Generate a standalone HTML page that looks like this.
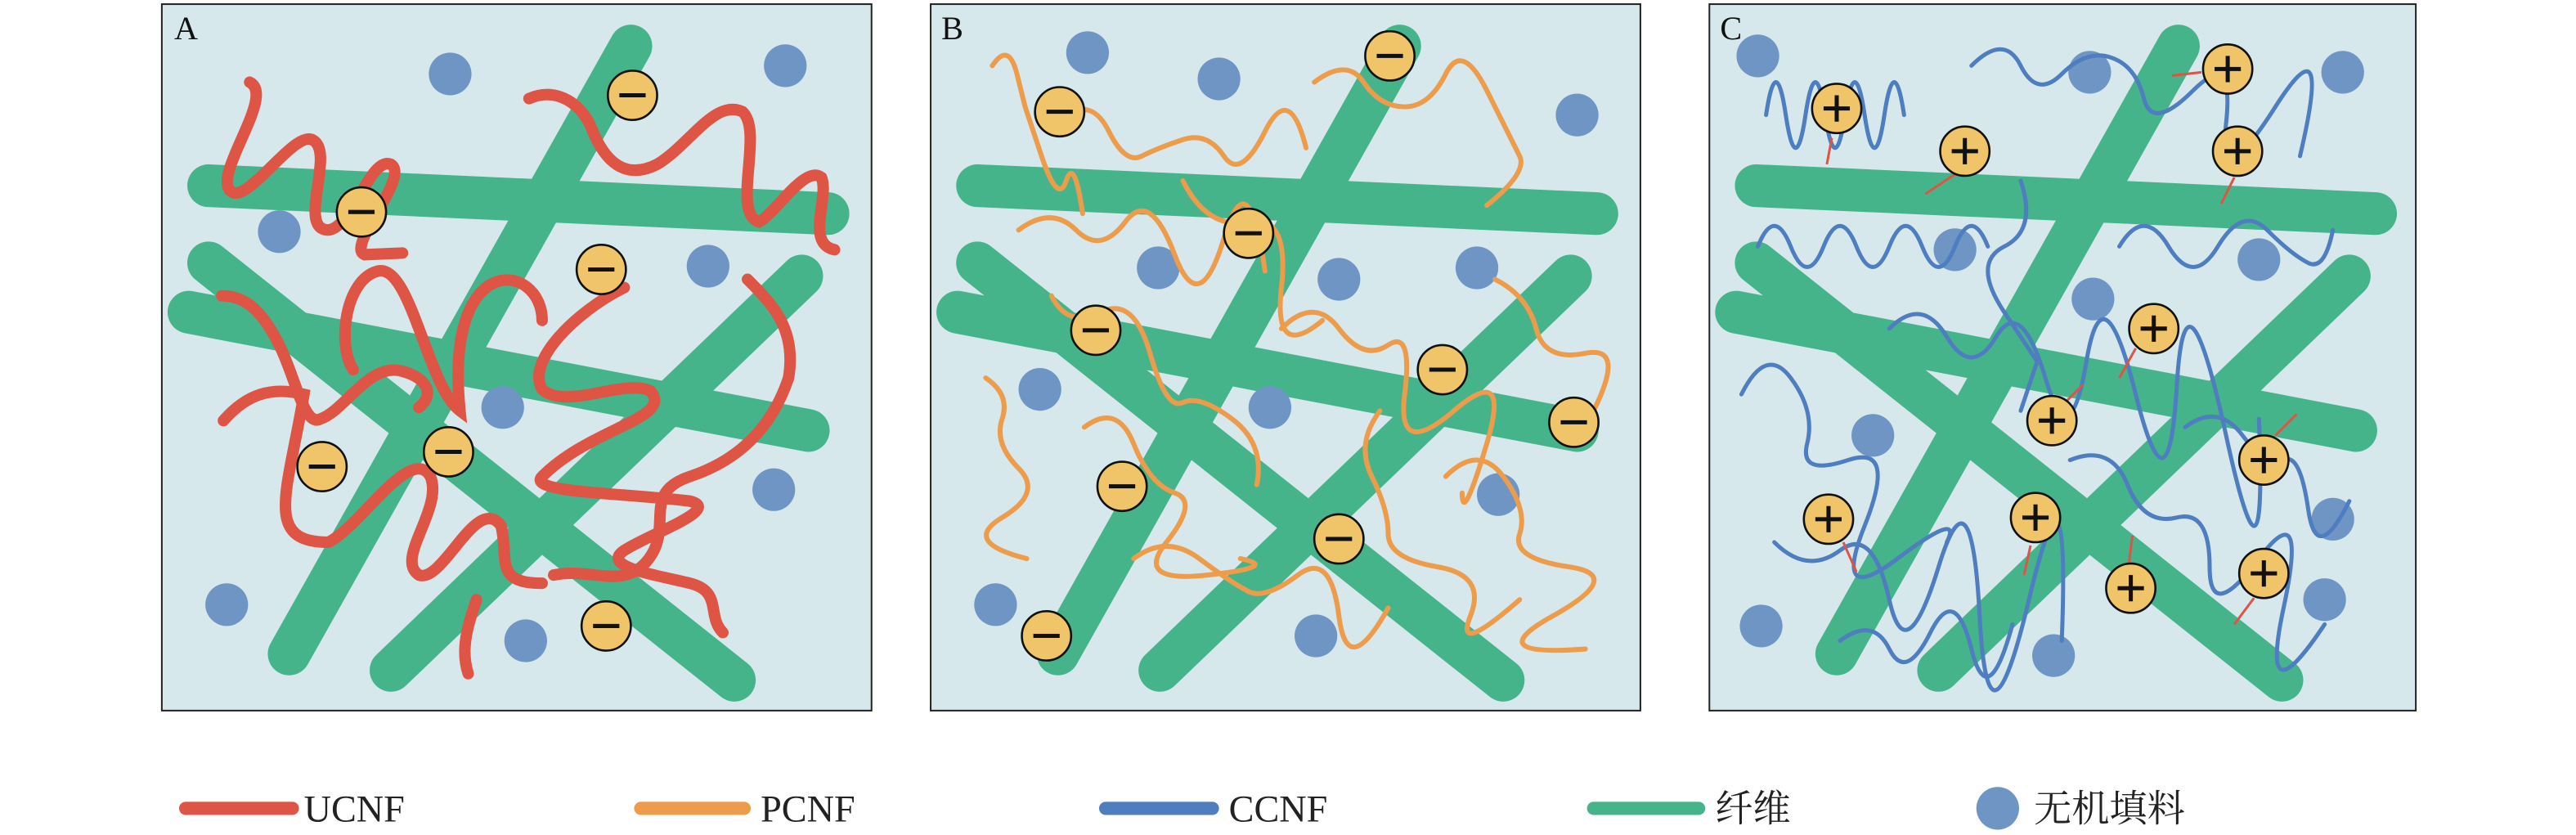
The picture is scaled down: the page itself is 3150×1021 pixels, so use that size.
<!DOCTYPE html>
<html><head><meta charset="utf-8"><style>
html,body{margin:0;padding:0;background:#fff;}
svg{display:block}
</style></head><body>
<svg width="3150" height="1021" viewBox="0 0 1568 508.2" xmlns="http://www.w3.org/2000/svg">
<defs>
<g id="fib" stroke="#45B48A" stroke-width="26" stroke-linecap="round" fill="none">
<line x1="127" y1="113" x2="504" y2="130"/>
<line x1="384" y1="28" x2="176" y2="398"/>
<line x1="127" y1="160" x2="447" y2="414"/>
<line x1="115" y1="190" x2="492" y2="262"/>
<line x1="488" y1="168" x2="238" y2="408"/>
</g>
</defs>
<!-- panels -->
<rect x="98.5" y="2.5" width="432" height="430" fill="#D7E8EC" stroke="#222" stroke-width="1"/>
<rect x="566.5" y="2.5" width="432" height="430" fill="#D7E8EC" stroke="#222" stroke-width="1"/>
<rect x="1040.5" y="2.5" width="430" height="430" fill="#D7E8EC" stroke="#222" stroke-width="1"/>
<g font-family="Liberation Serif, serif" font-size="20" fill="#111">
<text x="106" y="24">A</text><text x="573" y="24">B</text><text x="1047" y="24">C</text>
</g>
<use href="#fib"/>
<use href="#fib" transform="translate(468,0)"/>
<use href="#fib" transform="translate(942,0)"/>
<!-- dots -->
<g fill="#6E95C4">
<circle cx="274" cy="45" r="13"/><circle cx="478" cy="40" r="13"/><circle cx="170" cy="141" r="13"/><circle cx="431" cy="162" r="13"/><circle cx="306" cy="248" r="13"/><circle cx="471" cy="298" r="13"/><circle cx="138" cy="368" r="13"/><circle cx="320" cy="390" r="13"/>
<circle cx="662" cy="32" r="13"/><circle cx="742" cy="48" r="13"/><circle cx="960" cy="70" r="13"/><circle cx="705" cy="163" r="13"/><circle cx="815" cy="170" r="13"/><circle cx="899" cy="163" r="13"/><circle cx="633" cy="237" r="13"/><circle cx="773" cy="248" r="13"/><circle cx="912" cy="301" r="13"/><circle cx="606" cy="368" r="13"/><circle cx="801" cy="387" r="13"/>
<circle cx="1070" cy="34" r="13"/><circle cx="1272" cy="44" r="13"/><circle cx="1426" cy="44" r="13"/><circle cx="1190" cy="152" r="13"/><circle cx="1274" cy="182" r="13"/><circle cx="1375" cy="158" r="13"/><circle cx="1140" cy="265" r="13"/><circle cx="1420" cy="316" r="13"/><circle cx="1072" cy="381" r="13"/><circle cx="1250" cy="399" r="13"/><circle cx="1415" cy="365" r="13"/>
</g>
<!-- A red curves -->
<g stroke="#DE5445" stroke-width="7" fill="none" stroke-linecap="round">
<path d="M152,50 C168,58 130,105 140,116 C150,126 178,80 190,85 C205,92 180,140 200,140 C215,138 225,95 238,100 C250,108 210,150 222,155 L245,154"/>
<path d="M322,60 C340,52 355,65 360,78 C368,98 380,110 400,100 C420,88 435,60 452,68 C465,80 445,130 462,135 C472,130 490,100 500,108 C505,120 490,148 508,152"/>
<path d="M255,248 C265,240 260,230 245,226 C225,220 210,250 195,255 C185,260 180,230 170,210 C160,190 150,180 135,180" />
<path d="M136,256 C150,240 165,235 185,240 C175,300 160,330 200,330 C220,320 250,270 262,290 C270,310 240,340 255,350 C270,355 290,300 305,320 C310,340 300,355 330,355"/>
<path d="M285,410 C280,395 285,380 290,365"/>
<path d="M330,195 C330,160 270,150 280,250 C260,235 250,160 230,165 C210,170 205,210 215,225"/>
<path d="M337,350 C360,345 380,360 395,340 C410,320 390,300 420,290 C450,280 470,260 480,230 C485,200 470,185 455,170"/>
<path d="M380,175 C350,190 320,220 330,237 C345,250 380,230 396,238 C410,255 360,260 330,290 C320,300 380,300 420,305 C440,310 395,325 380,335 C365,345 400,350 420,355 C440,360 430,375 440,385"/>
</g>
<!-- B orange -->
<g stroke="#EC9C4A" stroke-width="3" fill="none" stroke-linecap="round">
<path d="M604,40 q10,-15 15,5 t5,20 t10,30 t15,15 t10,20"/>
<path d="M650,70 q15,-10 25,10 t20,15 t25,-10 t25,10 t25,-15 t25,10"/>
<path d="M800,50 q20,-15 30,0 t25,15 t25,-20 t25,10 t20,40 t-20,30"/>
<path d="M620,140 q20,-15 35,0 t30,-5 t30,20 t30,-10 t25,20"/>
<path d="M640,180 q10,20 30,10 t30,25 t20,30 t30,10 t15,40"/>
<path d="M600,230 q15,10 10,25 t10,30 t-10,30 t15,25"/>
<path d="M660,260 q20,-15 30,10 t25,30 t-5,30 t25,20 t20,-10"/>
<path d="M780,200 q20,-20 35,0 t30,10 t10,30 t30,10 t20,20 t-15,30"/>
<path d="M840,250 q-15,20 -5,40 t10,35 t30,20 t20,30 t30,-10"/>
<path d="M690,340 q20,-15 40,0 t30,20 t30,-10 t25,25 t30,-5"/>
<path d="M880,290 q20,-20 35,0 t10,35 t30,20 t-10,30 t20,20"/>
<path d="M910,170 q20,10 25,30 t30,15 t5,35"/>
<path d="M720,110 q15,30 40,25 t20,40 t25,20"/>
</g>
<!-- C blue -->
<g stroke="#4E7DC0" stroke-width="2.5" fill="none" stroke-linecap="round">
<path d="M1075,70 q6,-40 12,0 t12,0 t12,0 t12,0 t12,0 t12,0 t12,0"/>
<path d="M1200,40 q20,-20 30,0 t25,5 t30,-10 t20,25 t30,-5 t20,20 t30,-10 t15,30"/>
<path d="M1070,150 q10,-25 20,0 t20,0 t20,0 t20,0 t20,0 t20,0 t20,0"/>
<path d="M1290,150 q15,-25 30,0 t30,0 t30,-10 t25,20 t15,-20"/>
<path d="M1060,240 q15,-30 30,-10 t10,40 t25,10 t10,40 t20,20 t30,-10"/>
<path d="M1150,200 q20,-20 35,5 t30,0 t30,25 t25,-10 t30,20 t25,-5 t30,30 t20,-10"/>
<path d="M1080,330 q20,20 40,5 t30,30 t30,-20 t25,30 t30,-10 t20,25"/>
<path d="M1260,280 q25,-10 35,15 t30,20 t20,30 t30,-5 t15,30 t25,10"/>
<path d="M1330,260 q20,-15 35,5 t25,15 t15,30 t25,-5"/>
<path d="M1120,390 q20,-15 30,5 t25,-10 t25,10 t25,-15"/>
<path d="M1230,110 q10,30 -10,40 t0,40 t20,30 t-10,30"/>
</g>
<!-- arrows in C -->
<g stroke="#DE5445" stroke-width="1.5" fill="#DE5445">
<line x1="1115" y1="84" x2="1112" y2="100"/><line x1="1190" y1="106" x2="1172" y2="118"/><line x1="1340" y1="44" x2="1322" y2="46"/><line x1="1360" y1="108" x2="1352" y2="124"/><line x1="1300" y1="212" x2="1290" y2="230"/><line x1="1258" y1="244" x2="1268" y2="234"/><line x1="1385" y1="265" x2="1398" y2="252"/><line x1="1122" y1="330" x2="1130" y2="348"/><line x1="1236" y1="332" x2="1232" y2="350"/><line x1="1296" y1="342" x2="1298" y2="326"/><line x1="1372" y1="364" x2="1360" y2="380"/>
</g>
<!-- beads -->
<g fill="#F0C468" stroke="#111" stroke-width="1.3">
<circle cx="220" cy="129" r="15"/><circle cx="385" cy="58" r="15"/><circle cx="366" cy="164" r="15"/><circle cx="196" cy="284" r="15"/><circle cx="273" cy="275" r="15"/><circle cx="369" cy="381" r="15"/>
<circle cx="645" cy="68" r="15"/><circle cx="846" cy="34" r="15"/><circle cx="760" cy="142" r="15"/><circle cx="667" cy="201" r="15"/><circle cx="878" cy="225" r="15"/><circle cx="958" cy="257" r="15"/><circle cx="683" cy="296" r="15"/><circle cx="815" cy="328" r="15"/><circle cx="637" cy="387" r="15"/>
<circle cx="1118" cy="66" r="15"/><circle cx="1356" cy="42" r="15"/><circle cx="1196" cy="92" r="15"/><circle cx="1362" cy="92" r="15"/><circle cx="1311" cy="200" r="15"/><circle cx="1249" cy="256" r="15"/><circle cx="1378" cy="280" r="15"/><circle cx="1113" cy="316" r="15"/><circle cx="1239" cy="315" r="15"/><circle cx="1378" cy="349" r="15"/><circle cx="1297" cy="358" r="15"/>
</g>
<g stroke="#111" stroke-width="2.5">
<path d="M212,129h16M377,58h16M358,164h16M188,284h16M265,275h16M361,381h16"/>
<path d="M637,68h16M838,34h16M752,142h16M659,201h16M870,225h16M950,257h16M675,296h16M807,328h16M629,387h16"/>
<path d="M1110,66h16M1348,42h16M1188,92h16M1354,92h16M1303,200h16M1241,256h16M1370,280h16M1105,316h16M1231,315h16M1370,349h16M1289,358h16"/>
<path d="M1118,58v16M1356,34v16M1196,84v16M1362,84v16M1311,192v16M1249,248v16M1378,272v16M1113,308v16M1239,307v16M1378,341v16M1297,350v16"/>
</g>
<!-- legend -->
<g stroke-width="8" stroke-linecap="round">
<line x1="113" y1="492" x2="178" y2="492" stroke="#DE5445"/>
<line x1="390" y1="492" x2="453" y2="492" stroke="#EC9C4A"/>
<line x1="673" y1="492" x2="738" y2="492" stroke="#4E7DC0"/>
<line x1="970" y1="492" x2="1034" y2="492" stroke="#45B48A"/>
</g>
<circle cx="1216" cy="492" r="13" fill="#6E95C4"/>
<g font-family="Liberation Serif, 'Noto Serif CJK SC', serif" font-size="23" fill="#222">
<text x="185" y="500">UCNF</text>
<text x="463" y="500">PCNF</text>
<text x="748" y="500">CCNF</text>
<text x="1044" y="500">纤维</text>
<text x="1238" y="500">无机填料</text>
</g>
</svg>
</body></html>
